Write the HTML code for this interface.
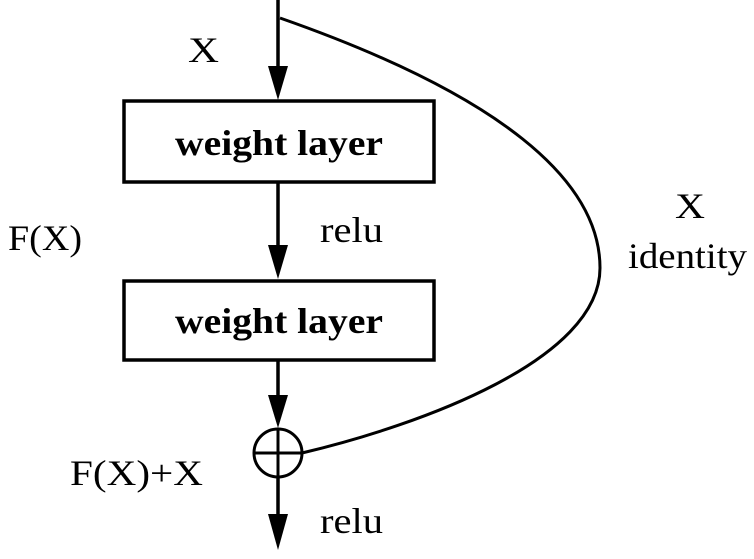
<!DOCTYPE html>
<html><head><style>html,body{margin:0;padding:0;background:#fff}</style></head><body>
<svg width="754" height="559" xmlns="http://www.w3.org/2000/svg" style="display:block">
<g stroke="#000" stroke-width="3.5" fill="none">
<line x1="278" y1="0" x2="278" y2="70"/>
<line x1="278" y1="182" x2="278" y2="250"/>
<line x1="278" y1="360" x2="278" y2="400"/>
<line x1="278" y1="478" x2="278" y2="520"/>
<rect x="124" y="101" width="310" height="81"/>
<rect x="124" y="281" width="310" height="79"/>
<circle cx="278" cy="453" r="24" stroke-width="3"/>
<line x1="254" y1="453" x2="302" y2="453" stroke-width="3"/>
<line x1="278" y1="429" x2="278" y2="477" stroke-width="3"/>
<path d="M280,18 C500,95 600,180 600,268 C600,360 420,425 302,453" stroke-width="3"/>
</g>
<g fill="#000">
<polygon points="268,66 288,66 278,100"/>
<polygon points="268,245 288,245 278,279"/>
<polygon points="268,395 288,395 278,428"/>
<polygon points="268,514 288,514 278,550"/>
</g>
<g font-family="Liberation Serif, serif" font-size="36" fill="#000">
<text x="188" y="62" textLength="31" lengthAdjust="spacingAndGlyphs">X</text>
<text x="175" y="155" font-weight="bold" textLength="208" lengthAdjust="spacingAndGlyphs">weight layer</text>
<text x="175" y="333" font-weight="bold" textLength="208" lengthAdjust="spacingAndGlyphs">weight layer</text>
<text x="320" y="242" textLength="63" lengthAdjust="spacingAndGlyphs">relu</text>
<text x="8" y="250" textLength="74" lengthAdjust="spacingAndGlyphs">F(X)</text>
<text x="675" y="218" textLength="30" lengthAdjust="spacingAndGlyphs">X</text>
<text x="628" y="268" textLength="119" lengthAdjust="spacingAndGlyphs">identity</text>
<text x="70" y="485" textLength="133" lengthAdjust="spacingAndGlyphs">F(X)+X</text>
<text x="320" y="533" textLength="63" lengthAdjust="spacingAndGlyphs">relu</text>
</g>
</svg>
</body></html>
